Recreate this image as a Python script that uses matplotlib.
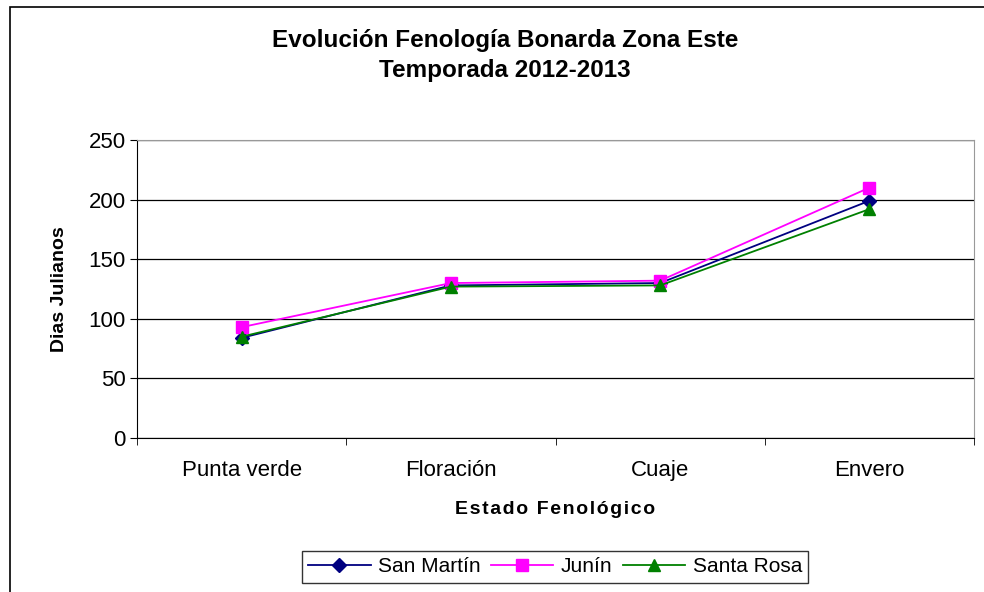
"""Evolución fenología Bonarda, Zona Este, temporada 2012-2013."""

import matplotlib
matplotlib.use("Agg")
import matplotlib.pyplot as plt
from matplotlib.patches import Rectangle
import numpy as np

plt.rcParams["font.family"] = ["Liberation Sans", "DejaVu Sans"]

# estados fenológicos y días julianos
ESTADOS = ["Punta verde", "Floración", "Cuaje", "Envero"]
SAN_MARTIN = [84, 128, 130, 199]
JUNIN = [93, 130, 132, 210]
SANTA_ROSA = [85, 127, 128, 192]
YTICKS = [0, 50, 100, 150, 200, 250]


def main():
    fig = plt.figure(figsize=(9.84, 5.92), dpi=100)
    ax = fig.add_axes([137 / 984, 1 - 438 / 592, (974 - 137) / 984, (438 - 140) / 592])

    # marco exterior del gráfico (sale por la derecha y abajo)
    fig.patches.append(Rectangle((10 / 984, -0.05), 1.05, 1 - 7 / 592 + 0.05,
                                 transform=fig.transFigure, fill=False,
                                 edgecolor="black", linewidth=1.2))

    x = np.arange(len(ESTADOS))
    ax.plot(x, SAN_MARTIN, color="#000080", marker="D", markersize=7,
            linewidth=1.3, label="San Martín", zorder=3)
    ax.plot(x, JUNIN, color="#FF00FF", marker="s", markersize=8,
            linewidth=1.3, label="Junín", zorder=3)
    ax.plot(x, SANTA_ROSA, color="#008000", marker="^", markersize=9,
            linewidth=1.3, label="Santa Rosa", zorder=3)

    ax.set_xlim(-0.5, len(ESTADOS) - 0.5)
    ax.set_ylim(0, 250)
    ax.set_yticks(YTICKS)
    ax.tick_params(axis="y", labelsize=16, length=5, direction="out", pad=3)
    ax.set_xticks(x)
    ax.set_xticklabels(ESTADOS, fontsize=16)
    ax.set_xticks(np.arange(-0.5, len(ESTADOS)), minor=True)
    ax.tick_params(axis="x", which="major", length=0, pad=16)
    ax.tick_params(axis="x", which="minor", length=5, direction="out")

    ax.grid(True, axis="y", color="black", linewidth=0.9)
    ax.set_axisbelow(True)
    for side in ("top", "right"):
        ax.spines[side].set_color("#999999")
    for side in ("left", "bottom"):
        ax.spines[side].set_color("black")

    # etiqueta con letras espaciadas, como en el original
    ax.set_xlabel("\u200a".join("Estado Fenológico"), fontsize=14,
                  fontweight="bold", labelpad=14)
    ax.set_ylabel("Dias Julianos", fontsize=14, fontweight="bold", labelpad=15)

    fig.text(505 / 984, 1 - 40 / 592, "Evolución Fenología Bonarda Zona Este",
             ha="center", va="center", fontsize=17.5, fontweight="bold")
    fig.text(505 / 984, 1 - 70 / 592, "Temporada 2012-2013",
             ha="center", va="center", fontsize=17.5, fontweight="bold")

    leg = fig.legend(loc="center", bbox_to_anchor=(555 / 984, 1 - 567 / 592),
                     ncol=3, fontsize=15, frameon=True, fancybox=False,
                     edgecolor="black", handlelength=3.0, columnspacing=0.5,
                     handletextpad=0.35, borderpad=0.3)
    leg.get_frame().set_linewidth(1.0)

    fig.savefig("out.png", dpi=100)


if __name__ == "__main__":
    main()
